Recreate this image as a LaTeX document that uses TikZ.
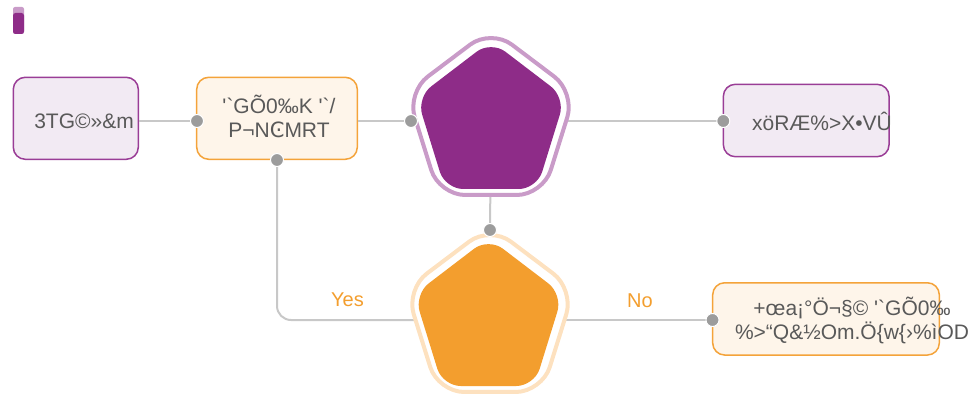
\documentclass[tikz,border=0pt]{standalone}
\usepackage{fontspec}
\newfontfamily\lsans{Liberation Sans}
\newfontfamily\dvsans{DejaVu Sans}
\definecolor{purD}{HTML}{8E2C88}
\definecolor{purB}{HTML}{9A3D96}
\definecolor{purL}{HTML}{C99BC8}
\definecolor{purF}{HTML}{F2EAF3}
\definecolor{oraD}{HTML}{F39E2E}
\definecolor{oraB}{HTML}{F4A33A}
\definecolor{oraL}{HTML}{FDE1BF}
\definecolor{oraF}{HTML}{FEF5EA}
\definecolor{lineG}{HTML}{C8C8C8}
\definecolor{dotG}{HTML}{9C9C9C}
\definecolor{txtG}{HTML}{595959}
\tikzset{
  pbox/.style={draw=purB, fill=purF, line width=1.5pt, rounded corners=12pt, inner sep=0pt},
  obox/.style={draw=oraB, fill=oraF, line width=1.5pt, rounded corners=12pt, inner sep=0pt},
  btext/.style={font=\lsans\fontsize{21}{24.5}\selectfont, text=txtG, align=center, inner sep=0pt},
  lbl/.style={font=\lsans\fontsize{20}{24}\selectfont, text=oraD, inner sep=0pt},
  conn/.style={draw=lineG, line width=2pt},
  portdot/.style={fill=dotG, draw=white, line width=1pt},
}
\begin{document}
\begin{tikzpicture}[x=1pt,y=-1pt]
\useasboundingbox (0,0) rectangle (973,395);
% small icon
\fill[purL, rounded corners=2pt] (13,7) rectangle (24,34);
\fill[purD, rounded corners=2.5pt] (13,13) rectangle (24,34);
% boxes
\node[pbox, minimum width=125pt, minimum height=82pt] (b1) at (75.8,118.3) {};
\node[obox, minimum width=160.6pt, minimum height=82pt] (b2) at (277,118.3) {};
\node[pbox, minimum width=165.7pt, minimum height=72.4pt] (b3) at (806.2,120.5) {};
\node[obox, minimum width=226.6pt, minimum height=72.3pt] (b4) at (826,318.9) {};
% texts
\node[btext] (t1) at (84,121) {3TG©»\&m};
\node[btext] (t2) at (279,116.5) {'`GÕ0‰K '`/\\P¬N{\dvsans Ͼ}MRT};
\node[btext] (t3) at (822,121) {xöRÆ\%>X•VÛ};
\node[btext] (t4) at (852,320.5) {+œa¡°Ö¬§© '`GÕ0‰\\\%>“Q\&½Om.Ö\{w\{›\%ìOD};
% ports
\coordinate (b2w) at (197,121);
\coordinate (b2s) at (277,160);
\coordinate (p1c) at (491,121);
\coordinate (p1w) at (411,121);
\coordinate (b3w) at (723.3,121);
\coordinate (p2c) at (490,320);
\coordinate (p2n) at (490,230);
\coordinate (b4w) at (712.5,320);
\coordinate (turn) at (277,320);
% connectors
\draw[conn] (b1.east |- b2w) -- (b2w);
\draw[conn] (b2.east |- p1w) -- (p1w);
\draw[conn] (p1c) -- (b3w);
\draw[conn] (p1c) -- (p2n);
\draw[conn, rounded corners=14pt] (b2s) -- (turn) -- (p2c);
\draw[conn] (p2c) -- (b4w);
% labels
\node[lbl] (yes) at (347.5,300) {Yes};
\node[lbl] (no) at (640,300.5) {No};
% purple pentagon
\begin{scope}[shift={(491,120.7)}]
\draw[draw=purL, fill=white, line width=4pt, rounded corners=26pt]
 (0,74.3) -- (126:88.4 and 91.8) -- (198:88.4 and 91.8) -- (-90:88.4 and 91.8)
 -- (-18:88.4 and 91.8) -- (54:88.4 and 91.8) -- cycle;
\end{scope}
\begin{scope}[shift={(491,122.7)}]
\fill[purD, rounded corners=18pt]
 (0,66.3) -- (126:78 and 81.95) -- (198:78 and 81.95) -- (-90:78 and 81.95)
 -- (-18:78 and 81.95) -- (54:78 and 81.95) -- cycle;
\end{scope}
% orange pentagon
\begin{scope}[shift={(490,317.7)}]
\draw[draw=oraL, fill=white, line width=4pt, rounded corners=26pt]
 (0,74.3) -- (126:88.4 and 91.8) -- (198:88.4 and 91.8) -- (-90:88.4 and 91.8)
 -- (-18:88.4 and 91.8) -- (54:88.4 and 91.8) -- cycle;
\end{scope}
\begin{scope}[shift={(488.5,319.7)}]
\fill[oraD, rounded corners=18pt]
 (0,66.3) -- (126:78 and 81.95) -- (198:78 and 81.95) -- (-90:78 and 81.95)
 -- (-18:78 and 81.95) -- (54:78 and 81.95) -- cycle;
\end{scope}
% dots
\foreach \p in {b2w,b2s,p1w,b3w,p2n,b4w}
  \draw[portdot] (\p) circle (6.5pt);
\end{tikzpicture}
\end{document}
